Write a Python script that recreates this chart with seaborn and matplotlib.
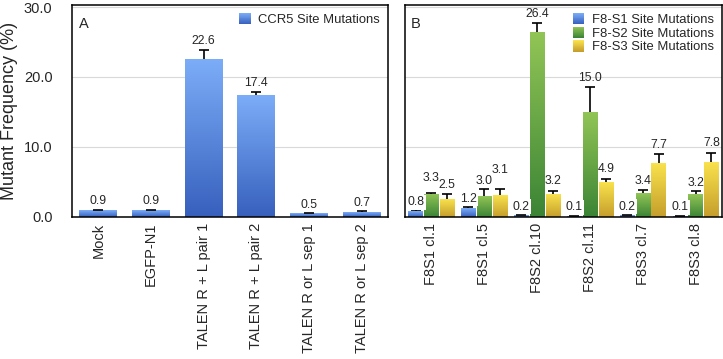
import numpy as np
import pandas as pd
import matplotlib
matplotlib.use("Agg")
import matplotlib.pyplot as plt
import seaborn as sns
from matplotlib.colors import LinearSegmentedColormap, to_rgb
from matplotlib.legend_handler import HandlerBase
from matplotlib.patches import Rectangle, Patch

# ---------------- data ----------------
cats_A = ["Mock", "EGFP-N1", "TALEN R + L pair 1", "TALEN R + L pair 2",
          "TALEN R or L sep 1", "TALEN R or L sep 2"]
vals_A = [0.9, 0.9, 22.6, 17.4, 0.5, 0.7]
err_A = [0.1, 0.1, 1.3, 0.5, 0.05, 0.1]

cats_B = ["F8S1 cl.1", "F8S1 cl.5", "F8S2 cl.10", "F8S2 cl.11", "F8S3 cl.7", "F8S3 cl.8"]
series_B = ["F8-S1 Site Mutations", "F8-S2 Site Mutations", "F8-S3 Site Mutations"]
vals_S1 = [0.8, 1.2, 0.2, 0.1, 0.2, 0.1]
vals_S2 = [3.3, 3.0, 26.4, 15.0, 3.4, 3.2]
vals_S3 = [2.5, 3.1, 3.2, 4.9, 7.7, 7.8]
err_S1 = [0.1, 0.2, 0.05, 0.03, 0.05, 0.03]
err_S2 = [0.1, 0.9, 1.35, 3.6, 0.45, 0.45]
err_S3 = [0.8, 0.85, 0.45, 0.5, 1.3, 1.25]

yticks = [0, 10, 20, 30]

# ---------------- style ----------------
sns.set_style("white")
plt.rcParams["font.family"] = ["Liberation Sans", "DejaVu Sans"]

blue = ("#7cadf8", "#3760bd")
green = ("#92c556", "#3b8435")
yellow = ("#f9e24c", "#c59e2c")

fig = plt.figure(figsize=(7.23, 3.59), dpi=100)
axA = fig.add_axes([72 / 723, 1 - 216.7 / 359, 316 / 723, 211.7 / 359])
axB = fig.add_axes([405 / 723, 1 - 216.7 / 359, 317 / 723, 211.7 / 359])

dfA = pd.DataFrame({"cat": cats_A, "val": vals_A})
sns.barplot(data=dfA, x="cat", y="val", ax=axA, color=blue[0], width=0.72,
            linewidth=0, errorbar=None)

dfB = pd.DataFrame({
    "cat": cats_B * 3,
    "series": np.repeat(series_B, len(cats_B)),
    "val": vals_S1 + vals_S2 + vals_S3,
})
sns.barplot(data=dfB, x="cat", y="val", hue="series", ax=axB, width=0.9, gap=0.1,
            palette=[blue[0], green[0], yellow[0]], linewidth=0, errorbar=None,
            legend=False)


def grad_fill(ax, bar, cols):
    top, bottom = cols
    x, y = bar.get_x(), bar.get_y()
    w, h = bar.get_width(), bar.get_height()
    cmap = LinearSegmentedColormap.from_list("g", [bottom, top])
    grad = np.linspace(0, 1, 256).reshape(-1, 1)
    im = ax.imshow(grad, extent=[x, x + w, y, y + h], origin="lower",
                   aspect="auto", cmap=cmap, zorder=2, interpolation="bilinear")
    im.set_clip_path(bar)
    bar.set_facecolor("none")


def style_axis(ax, show_y):
    ax.set_ylim(0, 30.3)
    ax.set_yticks(yticks)
    if show_y:
        ax.set_yticklabels([f"{t:.1f}" for t in yticks], fontsize=10.5)
    else:
        ax.set_yticklabels([])
    ax.tick_params(axis="y", length=0, pad=14)
    ax.tick_params(axis="x", length=0, pad=4.5, labelsize=10.5, labelrotation=90)
    ax.grid(axis="y", color="#d9d9d9", linewidth=0.8)
    ax.set_axisbelow(True)
    for s in ax.spines.values():
        s.set_color("black")
        s.set_linewidth(1.1)
    ax.set_xlabel("")
    ax.set_ylabel("")


def err_and_labels(ax, bars, vals, errs, offsets, boxed=False):
    xs = [b.get_x() + b.get_width() / 2 for b in bars]
    eb = ax.errorbar(xs, vals, yerr=[np.zeros(len(vals)), errs], fmt="none",
                     ecolor="black", elinewidth=1.2, capsize=3.3, capthick=1.2,
                     zorder=3)
    eb[1][0].set_visible(False)
    for i, (x, v, e) in enumerate(zip(xs, vals, errs)):
        kw = {}
        if boxed:
            kw["bbox"] = dict(boxstyle="square,pad=0.12", facecolor="white",
                              edgecolor="none")
        ax.annotate(f"{v:.1f}", xy=(x, v + e), xytext=(0, offsets.get(i, 6)),
                    textcoords="offset points", ha="center", va="center",
                    fontsize=8.8, zorder=4, **kw)


# ---- panel A ----
xlA = axA.get_xlim()
barsA = list(axA.containers[0])
for b in barsA:
    grad_fill(axA, b, blue)
axA.set_xlim(xlA)
style_axis(axA, True)
err_and_labels(axA, barsA, vals_A, err_A, {})
axA.set_ylabel("Mutant Frequency (%)", fontsize=13)
axA.yaxis.set_label_coords(-0.172, 0.5)
axA.text(0.022, 0.91, "A", transform=axA.transAxes, fontsize=10.5,
         ha="left", va="center")


class GradHandler(HandlerBase):
    def __init__(self, cols):
        super().__init__()
        self.top, self.bottom = to_rgb(cols[0]), to_rgb(cols[1])

    def create_artists(self, legend, orig_handle, xdescent, ydescent, width,
                       height, fontsize, trans):
        n = 24
        arts = []
        for i in range(n):
            t = i / (n - 1)
            c = tuple(self.bottom[k] + (self.top[k] - self.bottom[k]) * t for k in range(3))
            arts.append(Rectangle((-xdescent, -ydescent + height * i / n), width,
                                  height / n * 1.05, facecolor=c, edgecolor="none",
                                  transform=trans))
        return arts


legkw = dict(loc="upper right", frameon=False, fontsize=9.4, handlelength=0.9,
             handleheight=0.95, handletextpad=0.6, borderaxespad=0.3,
             borderpad=0.3, labelspacing=0.05)
hA = Patch(label="CCR5 Site Mutations")
axA.legend(handles=[hA], handler_map={hA: GradHandler(blue)}, **legkw)

# ---- panel B ----
xlB = axB.get_xlim()
cols_B = [blue, green, yellow]
vals_B = [vals_S1, vals_S2, vals_S3]
errs_B = [err_S1, err_S2, err_S3]
offs_B = [{}, {0: 10.8, 2: 6.5}, {1: 13.4, 2: 7.2, 3: 7.2, 5: 7.2}]
conts = list(axB.containers)
for cont, cols in zip(conts, cols_B):
    for b in cont:
        grad_fill(axB, b, cols)
axB.set_xlim(xlB)
style_axis(axB, False)
for k, cont in enumerate(conts):
    err_and_labels(axB, list(cont), vals_B[k], errs_B[k], offs_B[k], boxed=(k == 0))
axB.text(0.018, 0.91, "B", transform=axB.transAxes, fontsize=10.5,
         ha="left", va="center")
hB = [Patch(label=s) for s in series_B]
axB.legend(handles=hB, handler_map={h: GradHandler(c) for h, c in zip(hB, cols_B)},
           **legkw)

fig.savefig("out.png", dpi=100)
